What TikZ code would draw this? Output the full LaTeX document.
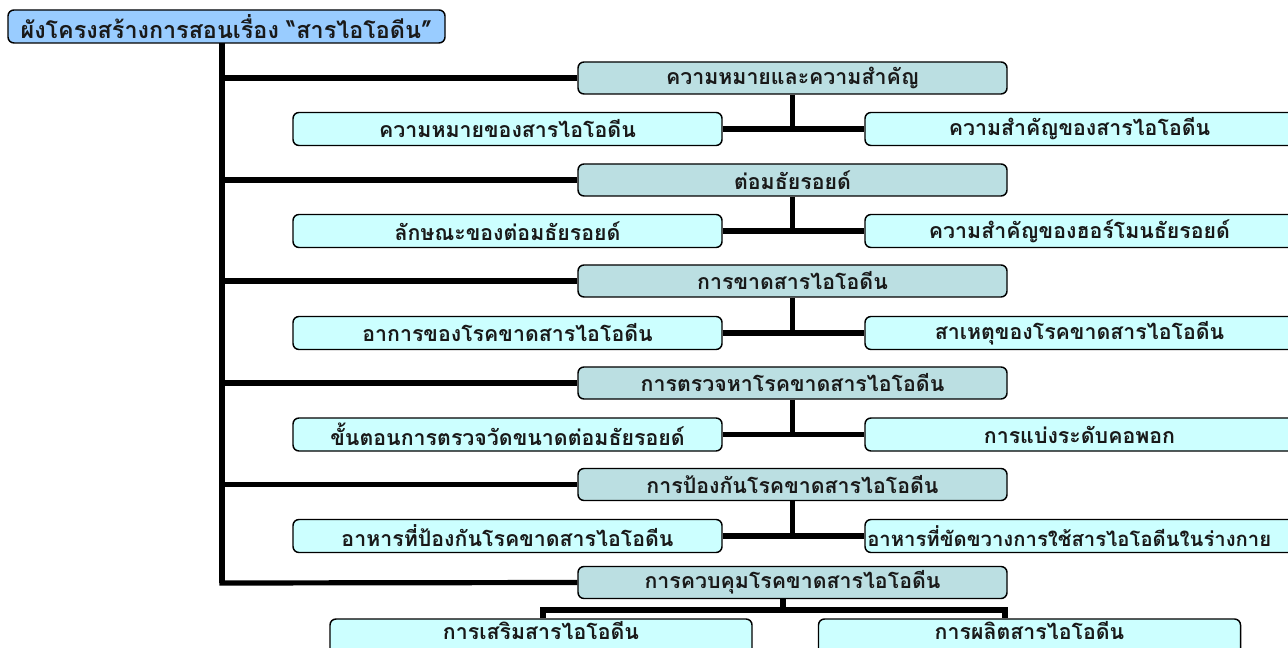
\documentclass[tikz,border=0pt]{standalone}
\usepackage{fontspec}
\newfontfamily\thai[Script=Thai]{Loma}
\definecolor{titlefill}{HTML}{99CCFF}
\definecolor{mainfill}{HTML}{BBDFE2}
\definecolor{subfill}{HTML}{CCFFFF}
\tikzset{
  thaitext/.style={font=\thai\bfseries\fontsize{16}{18}\selectfont, text=black!90},
  box/.style={draw=black, line width=1.1pt, rounded corners=4.5pt, inner sep=0pt, thaitext},
  titlebox/.style={box, fill=titlefill, minimum width=437*0.75pt, minimum height=33*0.75pt,
    font=\thai\bfseries\fontsize{17.5}{20}\selectfont},
  mainbox/.style={box, fill=mainfill, minimum width=429*0.75pt, minimum height=32*0.75pt},
  subbox/.style={box, fill=subfill, minimum width=429*0.75pt, minimum height=33*0.75pt},
  lowbox/.style={box, fill=subfill, minimum width=422*0.75pt, minimum height=40*0.75pt},
  conn/.style={line width=3.9pt, draw=black}
}
\begin{document}
\begin{tikzpicture}[x=0.75pt,y=-0.75pt]
\clip (0,0) rectangle (1288,648);
\fill[white] (0,0) rectangle (1288,648);
% title
\node[titlebox] (title) at (226.5,26.5) {ผังโครงสร้างการสอนเรื่อง “สารไอโอดีน”};
\coordinate (trunktop) at (222,43);
\coordinate (trunkbot) at (222,583);
% main boxes
\node[mainbox] (m1) at (792.5,78) {ความหมายและความสำคัญ};
\node[mainbox] (m2) at (792.5,180) {ต่อมธัยรอยด์};
\node[mainbox] (m3) at (792.5,281) {การขาดสารไอโอดีน};
\node[mainbox] (m4) at (792.5,383) {การตรวจหาโรคขาดสารไอโอดีน};
\node[mainbox] (m5) at (792.5,484.5) {การป้องกันโรคขาดสารไอโอดีน};
\node[mainbox] (m6) at (792.5,582.5) {การควบคุมโรคขาดสารไอโอดีน};
% sub boxes left
\node[subbox] (l1) at (507.5,129) {ความหมายของสารไอโอดีน};
\node[subbox] (l2) at (507.5,231) {ลักษณะของต่อมธัยรอยด์};
\node[subbox] (l3) at (507.5,333) {อาการของโรคขาดสารไอโอดีน};
\node[subbox] (l4) at (507.5,434.5) {ขั้นตอนการตรวจวัดขนาดต่อมธัยรอยด์};
\node[subbox] (l5) at (507.5,536) {อาหารที่ป้องกันโรคขาดสารไอโอดีน};
% sub boxes right
\node[subbox] (r1) at (1079.5,129) {ความสำคัญของสารไอโอดีน};
\node[subbox] (r2) at (1079.5,231) {ความสำคัญของฮอร์โมนธัยรอยด์};
\node[subbox] (r3) at (1079.5,333) {สาเหตุของโรคขาดสารไอโอดีน};
\node[subbox] (r4) at (1079.5,434.5) {การแบ่งระดับคอพอก};
\node[subbox] (r5) at (1079.5,536) {};
\node[anchor=west, inner sep=0pt, thaitext, font=\thai\bfseries\fontsize{15.2}{17}\selectfont] (r5t) at (867,536) {อาหารที่ขัดขวางการใช้สารไอโอดีนในร่างกาย};
% bottom boxes
\node[lowbox] (b1) at (541,639) {};
\node[lowbox] (b2) at (1029.5,639) {};
\node[thaitext, inner sep=0pt] (b1t) at (541,631) {การเสริมสารไอโอดีน};
\node[thaitext, inner sep=0pt] (b2t) at (1029.5,631) {การผลิตสารไอโอดีน};
% connectors: trunk
\draw[conn] (trunktop) -- (trunkbot);
\foreach \i in {1,...,5} {
  \draw[conn] (m\i.west -| trunktop) -- (m\i.west);
}
\draw[conn] ([xshift=-1.9pt]trunkbot) -- (m6.west);
% row connectors
\foreach \i in {1,...,5} {
  \draw[conn] (m\i.south) -- (m\i.south |- l\i.east);
  \draw[conn] (l\i.east) -- (r\i.west);
}
% bottom connector
\coordinate (bj) at (783,610);
\coordinate (bl) at (543,610);
\coordinate (br) at (1005,610);
\draw[conn] (m6.south -| bj) -- (bj);
\draw[conn] ([xshift=-1.9pt]bl) -- ([xshift=1.9pt]br);
\draw[conn] (bl) -- (bl |- b1.north);
\draw[conn] (br) -- (br |- b2.north);
\end{tikzpicture}
\end{document}
